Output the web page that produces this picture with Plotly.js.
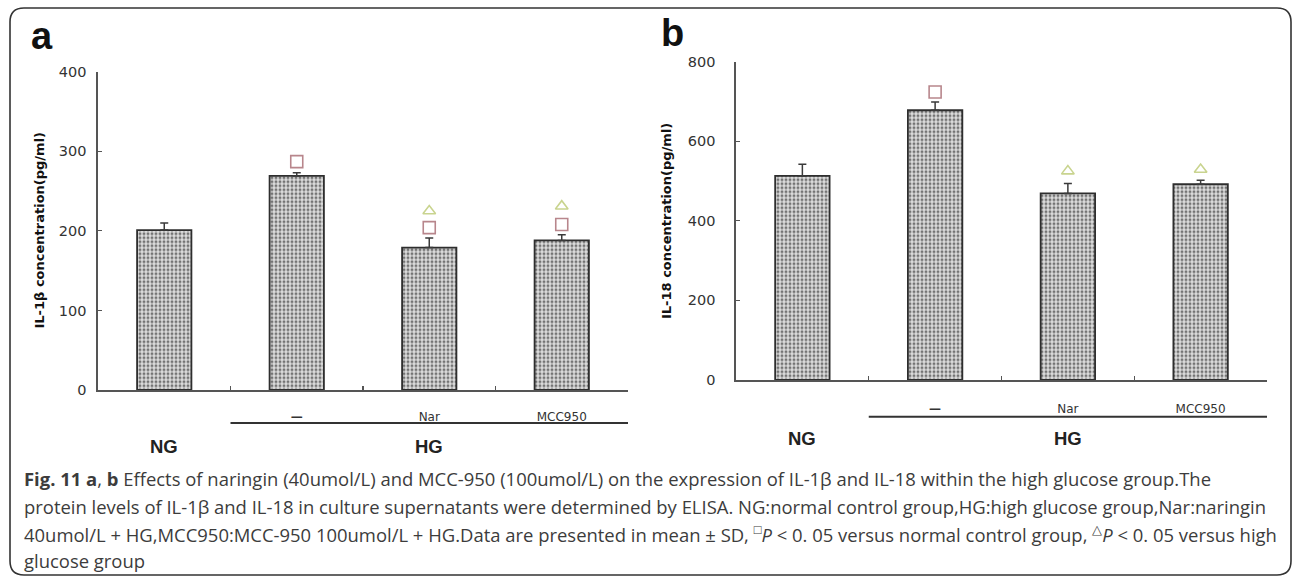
<!DOCTYPE html>
<html>
<head>
<meta charset="utf-8">
<script src="https://cdn.plot.ly/plotly-3.0.1.min.js"></script>
<style>html,body{margin:0;padding:0;background:#fff;}#chart{width:1293px;height:578px;}</style>
</head>
<body>
<div id="chart"></div>
<script>
// ---- data ----
const categories = ["NG", "HG", "Nar", "MCC950"];
const tickCats = ["HG", "Nar", "MCC950"];
const tickLabels = ["<b>—</b>", "Nar", "MCC950"];

const il1bMean = [201, 269, 179, 188];
const il1bSD   = [9, 4, 12, 7];
const il1bSigNormal = [null, 287, 204, 208];   // □ P<0.05 vs NG
const il1bSigHigh   = [null, null, 225, 231];  // △ P<0.05 vs HG

const il18Mean = [513, 678, 469, 492];
const il18SD   = [29, 21, 25, 10];
const il18SigNormal = [null, 724, null, null];
const il18SigHigh   = [null, null, 525, 529];

const yTicksA = [0, 100, 200, 300, 400];
const yTicksB = [0, 200, 400, 600, 800];

// ---- layout helpers ----
const W = 1293, H = 578;
const px = x => x / W;
const py = y => 1 - y / H;

const barStyle = {
  color: '#d0d0d0',
  line: {color: '#2e2e2e', width: 1.8},
  pattern: {shape: '.', fgcolor: '#747474', bgcolor: '#dedede', size: 4, solidity: 0.45}
};
const errStyle = (arr) => ({type: 'data', symmetric: false, array: arr, arrayminus: arr.map(() => 0),
  color: '#3a3a3a', thickness: 1.5, width: 4});
const sqColor = '#b8868c', triColor = '#c9d48f';

const traces = [
  {type: 'bar', x: categories, y: il1bMean, width: 0.41, marker: barStyle, error_y: errStyle(il1bSD), xaxis: 'x', yaxis: 'y', hoverinfo: 'none'},
  {type: 'scatter', mode: 'markers', x: categories, y: il1bSigNormal, xaxis: 'x', yaxis: 'y',
   marker: {symbol: 'square-open', size: 12, color: sqColor, line: {width: 1.6}}, hoverinfo: 'none'},
  {type: 'scatter', mode: 'markers', x: categories, y: il1bSigHigh, xaxis: 'x', yaxis: 'y',
   marker: {symbol: 'triangle-up-open', size: 11, color: triColor, line: {width: 1.6}}, hoverinfo: 'none'},
  {type: 'bar', x: categories, y: il18Mean, width: 0.41, marker: barStyle, error_y: errStyle(il18SD), xaxis: 'x2', yaxis: 'y2', hoverinfo: 'none'},
  {type: 'scatter', mode: 'markers', x: categories, y: il18SigNormal, xaxis: 'x2', yaxis: 'y2',
   marker: {symbol: 'square-open', size: 12, color: sqColor, line: {width: 1.6}}, hoverinfo: 'none'},
  {type: 'scatter', mode: 'markers', x: categories, y: il18SigHigh, xaxis: 'x2', yaxis: 'y2',
   marker: {symbol: 'triangle-up-open', size: 11, color: triColor, line: {width: 1.6}}, hoverinfo: 'none'}
];

const tickFont = {family: 'DejaVu Sans, sans-serif', size: 14.5, color: '#333'};
const catFont = {family: 'DejaVu Sans, sans-serif', size: 12, color: '#333'};

function xAxis(domain, anchor, standoff) {
  return {domain: domain, anchor: anchor, type: 'category', categoryorder: 'array', categoryarray: categories,
    range: [-0.5, 3.5], tickmode: 'array', tickvals: tickCats, ticktext: tickLabels,
    ticks: 'inside', tickson: 'boundaries', ticklen: 4, tickwidth: 1.2, tickcolor: '#555',
    showline: true, linecolor: '#555', linewidth: 1.6, showgrid: false, zeroline: false,
    tickfont: catFont, ticklabelstandoff: standoff, fixedrange: true};
}
function yAxis(domain, anchor, range, vals, standoff) {
  return {domain: domain, anchor: anchor, range: range, tickmode: 'array', tickvals: vals,
    ticks: 'inside', ticklen: 4, tickwidth: 1.2, tickcolor: '#555',
    showline: true, linecolor: '#555', linewidth: 1.6, showgrid: false, zeroline: false,
    tickfont: tickFont, ticklabelstandoff: standoff, fixedrange: true};
}

const capFont = {family: 'Open Sans, sans-serif', size: 18.45, color: '#3c3c3c'};
const groupFont = {family: 'Liberation Sans Narrow, Liberation Sans, sans-serif', size: 18.5, color: '#222'};
const titleFont = {family: 'DejaVu Sans, sans-serif', size: 13, color: '#111'};
const letterFont = {family: 'Liberation Sans, sans-serif', size: 38, color: '#111'};

function cap(text, y) {
  return {xref: 'paper', yref: 'paper', x: px(22), y: py(y), xanchor: 'left', yanchor: 'middle',
    text: text, showarrow: false, font: capFont, align: 'left'};
}

// rounded frame
const fx0 = 10, fy0 = 8, fx1 = 1291, fy1 = 575, r = 14;
const framePath = `M ${px(fx0)} ${py(fy1 - r)} L ${px(fx0)} ${py(fy0 + r)} Q ${px(fx0)} ${py(fy0)} ${px(fx0 + r)} ${py(fy0)} ` +
  `L ${px(fx1 - r)} ${py(fy0)} Q ${px(fx1)} ${py(fy0)} ${px(fx1)} ${py(fy0 + r)} L ${px(fx1)} ${py(fy1 - r)} ` +
  `Q ${px(fx1)} ${py(fy1)} ${px(fx1 - r)} ${py(fy1)} L ${px(fx0 + r)} ${py(fy1)} Q ${px(fx0)} ${py(fy1)} ${px(fx0)} ${py(fy1 - r)} Z`;

const layout = {
  width: W, height: H, margin: {l: 0, r: 0, t: 0, b: 0},
  paper_bgcolor: '#fff', plot_bgcolor: 'rgba(0,0,0,0)', showlegend: false,
  xaxis: xAxis([px(98), px(628)], 'y', 15),
  yaxis: yAxis([py(390), py(71.7)], 'x', [0, 400], yTicksA, 7),
  xaxis2: xAxis([px(736), px(1267)], 'y2', 17),
  yaxis2: yAxis([py(380), py(61.7)], 'x2', [0, 800], yTicksB, 16),
  shapes: [
    {type: 'path', xref: 'paper', yref: 'paper', path: framePath, line: {color: '#333', width: 1.6}},
    {type: 'line', xref: 'x', yref: 'paper', x0: 0.5, x1: 3.57, y0: py(423), y1: py(423), line: {color: '#333', width: 2}},
    {type: 'line', xref: 'x2', yref: 'paper', x0: 0.5, x1: 3.55, y0: py(416.7), y1: py(416.7), line: {color: '#333', width: 2}}
  ],
  annotations: [
    {xref: 'paper', yref: 'paper', x: px(29), y: py(36), xanchor: 'left', yanchor: 'middle', text: '<b>a</b>', showarrow: false, font: letterFont},
    {xref: 'paper', yref: 'paper', x: px(659), y: py(33), xanchor: 'left', yanchor: 'middle', text: '<b>b</b>', showarrow: false, font: letterFont},
    {xref: 'paper', yref: 'paper', x: px(38.5), y: py(230), textangle: -90, xanchor: 'center', yanchor: 'middle',
     text: '<b>IL-1β concentration(pg/ml)</b>', showarrow: false, font: titleFont},
    {xref: 'paper', yref: 'paper', x: px(667), y: py(221), textangle: -90, xanchor: 'center', yanchor: 'middle',
     text: '<b>IL-18 concentration(pg/ml)</b>', showarrow: false, font: titleFont},
    {xref: 'x', yref: 'paper', x: 'NG', y: py(446), xanchor: 'center', yanchor: 'middle', text: '<b>NG</b>', showarrow: false, font: groupFont},
    {xref: 'x', yref: 'paper', x: 'Nar', y: py(446), xanchor: 'center', yanchor: 'middle', text: '<b>HG</b>', showarrow: false, font: groupFont},
    {xref: 'x2', yref: 'paper', x: 'NG', y: py(438), xanchor: 'center', yanchor: 'middle', text: '<b>NG</b>', showarrow: false, font: groupFont},
    {xref: 'x2', yref: 'paper', x: 'Nar', y: py(438), xanchor: 'center', yanchor: 'middle', text: '<b>HG</b>', showarrow: false, font: groupFont},
    cap('<b>Fig. 11</b> <b>a</b>, <b>b</b> Effects of naringin (40umol/L) and MCC-950 (100umol/L) on the expression of IL-1β and IL-18 within the high glucose group.The', 478),
    cap('protein levels of IL-1β and IL-18 in culture supernatants were determined by ELISA. NG:normal control group,HG:high glucose group,Nar:naringin', 506),
    cap('40umol/L + HG,MCC950:MCC-950 100umol/L + HG.Data are presented in mean ± SD, <sup>□</sup><i>P</i> < 0. 05 versus normal control group, <sup>△</sup><i>P</i> < 0. 05 versus high', 533),
    cap('glucose group', 560)
  ]
};

Plotly.newPlot('chart', traces, layout, {staticPlot: true, displayModeBar: false});
</script>
</body>
</html>
